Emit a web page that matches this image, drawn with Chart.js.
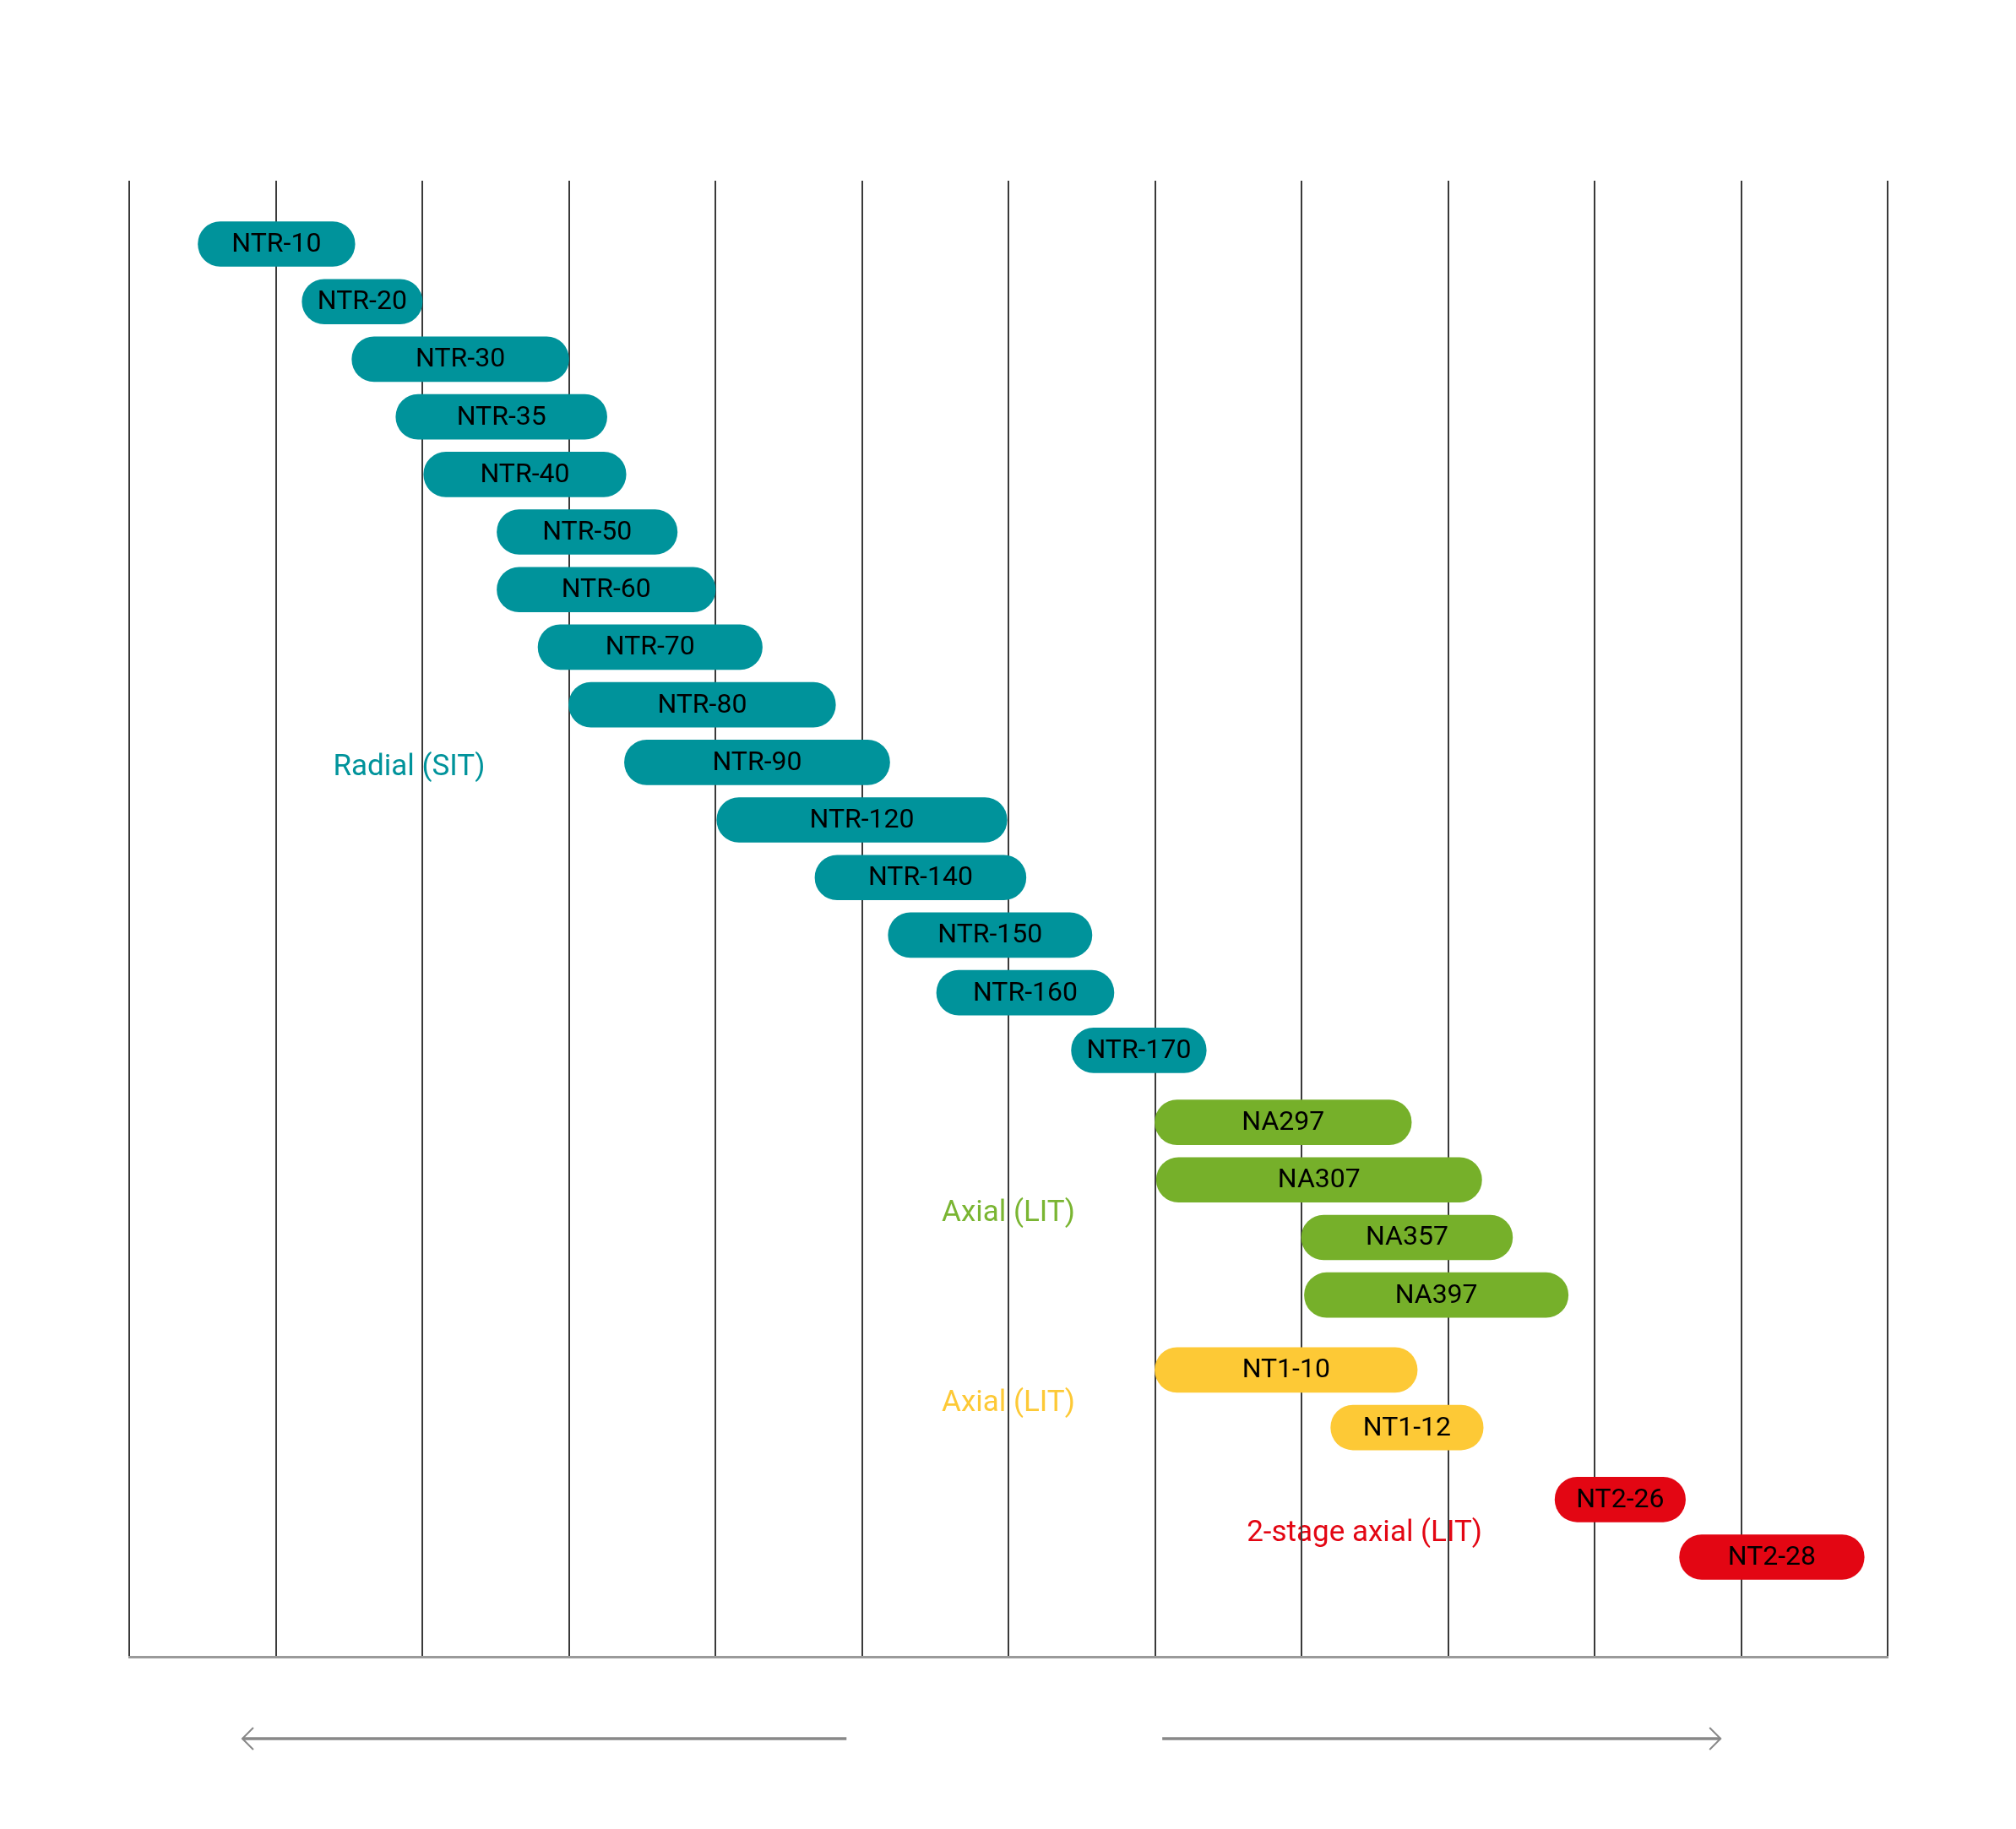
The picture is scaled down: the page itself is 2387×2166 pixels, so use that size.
<!DOCTYPE html>
<html>
<head>
<meta charset="utf-8">
<script src="https://cdn.jsdelivr.net/npm/chart.js@4.4.1/dist/chart.umd.min.js"></script>
<style>
  html, body { margin: 0; padding: 0; background: #ffffff; }
  #wrap { width: 2387px; height: 2166px; }
  canvas { display: block; }
</style>
</head>
<body>
<div id="wrap"><canvas id="c" width="2387" height="2166"></canvas></div>
<script>
// ---------- DATA (x in grid units, 0..12) ----------
const radialModels = ["NTR-10","NTR-20","NTR-30","NTR-35","NTR-40","NTR-50","NTR-60","NTR-70","NTR-80","NTR-90","NTR-120","NTR-140","NTR-150","NTR-160","NTR-170"];
const radialStart  = [0.47, 1.18, 1.52, 1.82, 2.01, 2.51, 2.51, 2.79, 3.00, 3.38, 4.01, 4.68, 5.18, 5.51, 6.43];
const radialEnd    = [1.54, 2.00, 3.00, 3.26, 3.39, 3.74, 4.00, 4.32, 4.82, 5.19, 5.99, 6.12, 6.57, 6.72, 7.35];

const axialModels  = ["NA297","NA307","NA357","NA397"];
const axialStart   = [7.00, 7.01, 8.00, 8.02];
const axialEnd     = [8.75, 9.23, 9.44, 9.82];

const axialT1Models = ["NT1-10","NT1-12"];
const axialT1Start  = [7.00, 8.20];
const axialT1End    = [8.79, 9.24];

const twoStageModels = ["NT2-26","NT2-28"];
const twoStageStart  = [9.73, 10.58];
const twoStageEnd    = [10.62, 11.84];

const groupNames  = ["Radial (SIT)", "Axial (LIT)", "Axial (LIT)", "2-stage axial (LIT)"];
const groupColors = ["#00939b", "#76b02a", "#fdc936", "#e30613"];
const groupLabelColors = ["#00939b", "#7ab532", "#fdc936", "#e30613"];
const groupLabelX = [1.91, 6.0, 6.0, 8.43];

const groups = [
  { models: radialModels,   start: radialStart,   end: radialEnd },
  { models: axialModels,    start: axialStart,    end: axialEnd },
  { models: axialT1Models,  start: axialT1Start,  end: axialT1End },
  { models: twoStageModels, start: twoStageStart, end: twoStageEnd }
];

// ---------- build rows (one row per model, small gap between groups) ----------
const GROUP_GAPS = [0.25, 0.30, 0.25, 0];
let row = 0;
const groupLabelRow = [];
const datasets = groups.map((g, gi) => {
  const data = g.models.map((m, i) => {
    const p = { x: [g.start[i], g.end[i]], y: row, name: m };
    row += 1;
    return p;
  });
  row += GROUP_GAPS[gi];
  const first = data[0].y, last = data[data.length - 1].y;
  groupLabelRow.push(gi === 0 ? data[9].y : (first + last) / 2);
  return {
    label: groupNames[gi],
    data,
    backgroundColor: groupColors[gi],
    borderWidth: 0,
    borderRadius: 40,
    borderSkipped: false,
    barThickness: 53,
    grouped: false
  };
});

const FONT = "Roboto, 'Liberation Sans', 'DejaVu Sans', sans-serif";

const decor = {
  id: 'decor',
  beforeDraw(chart) {
    const ctx = chart.ctx;
    ctx.save();
    ctx.fillStyle = '#ffffff';
    ctx.fillRect(0, 0, chart.width, chart.height);
    // group labels (drawn under grid lines)
    const xs = chart.scales.x, ys = chart.scales.y;
    ctx.font = "35px " + FONT;
    ctx.textAlign = 'center';
    ctx.textBaseline = 'middle';
    groupNames.forEach((n, i) => {
      ctx.fillStyle = groupLabelColors[i];
      ctx.fillText(n, xs.getPixelForValue(groupLabelX[i]), ys.getPixelForValue(groupLabelRow[i]) + 6);
    });
    ctx.restore();
  },
  afterDatasetsDraw(chart) {
    const ctx = chart.ctx;
    ctx.save();
    ctx.font = "32px " + FONT;
    ctx.fillStyle = '#000000';
    ctx.textAlign = 'center';
    ctx.textBaseline = 'middle';
    chart.data.datasets.forEach((ds, di) => {
      const meta = chart.getDatasetMeta(di);
      meta.data.forEach((el, i) => {
        const p = el.getProps(['x', 'base', 'y'], true);
        ctx.fillText(ds.data[i].name, (p.x + p.base) / 2, p.y + 1);
      });
    });
    // direction arrows below the axis
    const xs = chart.scales.x;
    const ay = chart.chartArea.bottom + 97;
    ctx.strokeStyle = '#888888';
    ctx.lineCap = 'butt';
    const arrow = (a, b, dir) => {
      const x1 = xs.getPixelForValue(a), x2 = xs.getPixelForValue(b);
      ctx.lineWidth = 3.5;
      ctx.beginPath(); ctx.moveTo(x1, ay); ctx.lineTo(x2, ay); ctx.stroke();
      const tip = dir < 0 ? x1 : x2;
      ctx.lineWidth = 2;
      ctx.beginPath();
      ctx.moveTo(tip - dir * 13, ay - 13);
      ctx.quadraticCurveTo(tip - dir * 4, ay - 4, tip, ay);
      ctx.quadraticCurveTo(tip - dir * 4, ay + 4, tip - dir * 13, ay + 13);
      ctx.stroke();
    };
    arrow(0.772, 4.895, -1);
    arrow(7.05, 10.86, 1);
    ctx.restore();
  }
};

new Chart(document.getElementById('c'), {
  type: 'bar',
  data: { datasets },
  options: {
    indexAxis: 'y',
    responsive: false,
    maintainAspectRatio: false,
    devicePixelRatio: 1,
    animation: false,
    layout: { padding: { left: 153, right: 152, top: 214, bottom: 204 } },
    plugins: { legend: { display: false }, tooltip: { enabled: false } },
    scales: {
      x: {
        type: 'linear',
        position: 'bottom',
        min: 0,
        max: 12,
        ticks: { display: false, stepSize: 1 },
        grid: { display: true, color: '#3a3a3a', lineWidth: 2, drawTicks: false },
        border: { display: true, color: '#9a9a9a', width: 3 }
      },
      y: {
        type: 'linear',
        reverse: true,
        offset: false,
        grid: { offset: false },
        min: -1.10,
        max: 24.53,
        display: false
      }
    }
  },
  plugins: [decor]
});
</script>
</body>
</html>
